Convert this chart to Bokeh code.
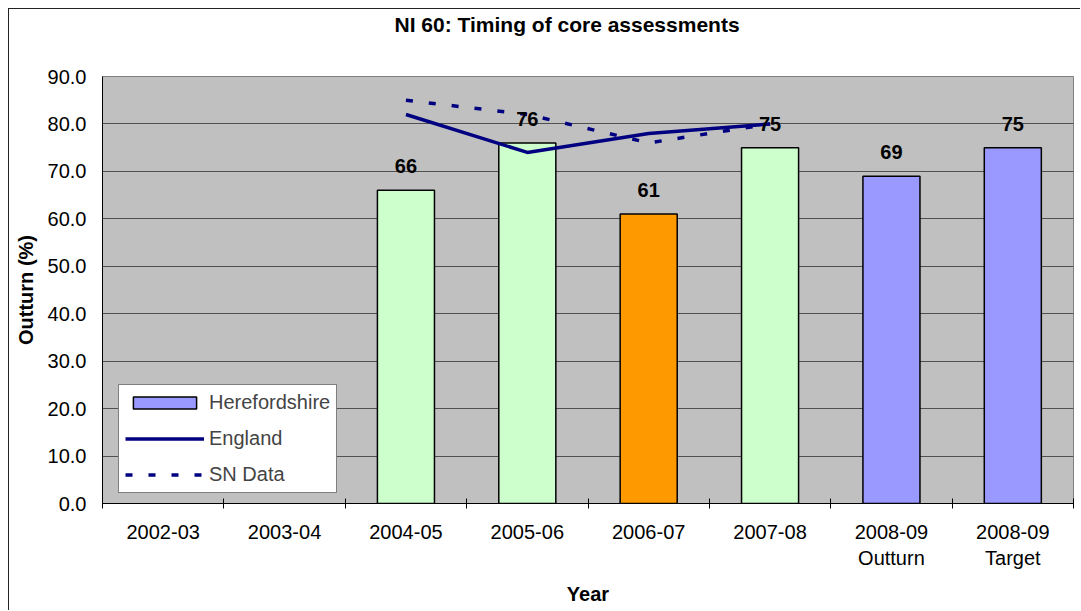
from bokeh.plotting import figure
from bokeh.models import (FixedTicker, PrintfTickFormatter, Legend, LegendItem,
                          LabelSet, ColumnDataSource, Range1d, Title)
from bokeh.core.properties import value
from bokeh.embed import file_html
from bokeh.resources import INLINE

title_text = "NI 60: Timing of core assessments"
categories = ["2002-03", "2003-04", "2004-05", "2005-06", "2006-07",
              "2007-08", "2008-09\nOutturn", "2008-09\nTarget"]
bar_cats = ["2004-05", "2005-06", "2006-07", "2007-08",
            "2008-09\nOutturn", "2008-09\nTarget"]
bar_values = [66, 76, 61, 75, 69, 75]
bar_colors = ["#CCFFCC", "#CCFFCC", "#FF9900", "#CCFFCC", "#9999FF", "#9999FF"]
line_cats = ["2004-05", "2005-06", "2006-07", "2007-08"]
england = [82, 74, 78, 80]
sn_data = [85, 82, 76, 80]
y_ticks = [0, 10, 20, 30, 40, 50, 60, 70, 80, 90]

FONT = "Liberation Sans"

def pos(c):
    return categories.index(c) + 0.5

bar_src = ColumnDataSource(dict(x=[pos(c) for c in bar_cats], top=bar_values,
                                color=bar_colors, label=[str(v) for v in bar_values]))
line_x = [pos(c) for c in line_cats]

p = figure(width=1072, height=602, x_range=Range1d(0, len(categories)),
           y_range=Range1d(0, 90), output_backend="svg", toolbar_location=None,
           min_border_left=93, min_border_right=8, min_border_top=67,
           min_border_bottom=108, background_fill_color="#C0C0C0",
           border_fill_color="white", title=None)
p.styles = {"margin-left": "8px", "margin-top": "8px",
            "border-left": "1px solid #222222", "border-top": "1px solid #222222"}
p.outline_line_color = "#808080"
p.outline_line_width = 1

# spacer (closest to the frame), then the real title above it
p.add_layout(Title(text=" ", text_font=FONT, text_font_size="21px", standoff=16), "above")
p.add_layout(Title(text=title_text, align="left", offset=292, text_font=FONT,
                   text_font_size="21px", text_font_style="bold", standoff=0,
                   text_color="black"), "above")

# y axis
p.yaxis.ticker = FixedTicker(ticks=y_ticks, minor_ticks=[])
p.yaxis.formatter = PrintfTickFormatter(format="%.1f")
p.yaxis.major_tick_out = 6
p.yaxis.major_tick_in = 0
p.yaxis.minor_tick_out = 0
p.yaxis.minor_tick_in = 0
p.yaxis.major_label_standoff = 10
p.yaxis.axis_label = "Outturn (%)"
p.yaxis.axis_label_standoff = 8

# x axis
p.xaxis.ticker = FixedTicker(ticks=[i + 0.5 for i in range(len(categories))],
                             minor_ticks=list(range(len(categories) + 1)))
p.xaxis.major_label_overrides = {i + 0.5: c for i, c in enumerate(categories)}
p.xaxis.major_tick_out = 0
p.xaxis.major_tick_in = 0
p.xaxis.minor_tick_in = 5
p.xaxis.minor_tick_out = 5
p.xaxis.minor_tick_line_color = "black"
p.xaxis.major_label_standoff = 12
p.xaxis.axis_label = "Year"
p.xaxis.axis_label_standoff = 11

for ax in (p.xaxis, p.yaxis):
    ax.axis_line_color = "black"
    ax.major_tick_line_color = "black" if ax is p.yaxis else None
    ax.major_label_text_font = FONT
    ax.major_label_text_font_size = "20px"
    ax.major_label_text_color = "black"
    ax.axis_label_text_font = FONT
    ax.axis_label_text_font_size = "20px"
    ax.axis_label_text_font_style = "bold"
    ax.axis_label_text_color = "black"

p.xgrid.visible = False
p.ygrid.ticker = FixedTicker(ticks=y_ticks)
p.ygrid.grid_line_color = "#505050"
p.ygrid.grid_line_width = 1

bars = p.vbar(x="x", top="top", width=0.47, fill_color="color", line_color="black",
              line_width=1.5, source=bar_src)
eng = p.line(line_x, england, line_color="#000080", line_width=3.5)
sn = p.line(line_x, sn_data, line_color="#000080", line_width=3.5, line_dash="7 16")

labels = LabelSet(x="x", y="top", text="label", source=bar_src, y_offset=24,
                  text_align="center", text_baseline="middle", text_font=value(FONT),
                  text_font_size=value("20px"), text_font_style="bold", text_color="black")
p.add_layout(labels)

legend = Legend(items=[LegendItem(label="Herefordshire", renderers=[bars], index=4),
                       LegendItem(label="England", renderers=[eng]),
                       LegendItem(label="SN Data", renderers=[sn])],
                location=(16, 10), background_fill_color="white", background_fill_alpha=1,
                border_line_color="black", border_line_width=1, padding=6, spacing=13,
                glyph_width=79, glyph_height=15, label_height=22, label_standoff=5,
                label_text_font=FONT, label_text_font_size="20px", margin=0)
p.add_layout(legend)

open("out.html", "w").write(file_html(p, INLINE))
